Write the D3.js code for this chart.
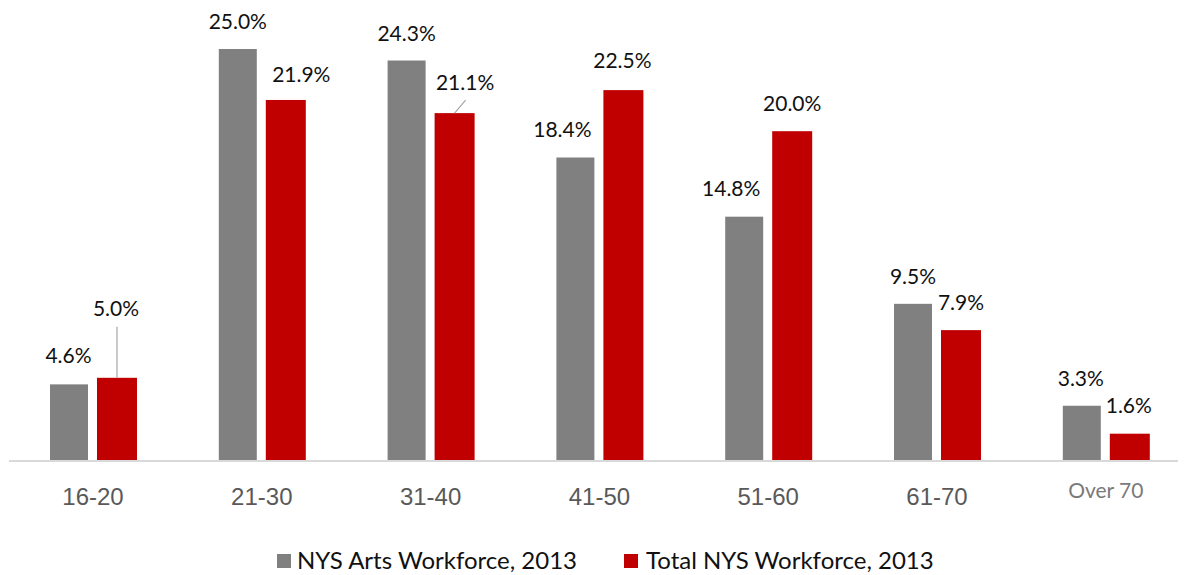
<!DOCTYPE html>
<html>
<head>
<meta charset="utf-8">
<script src="https://cdn.jsdelivr.net/npm/d3@7"></script>
<style>
  html, body { margin: 0; padding: 0; background: #fff; }
  svg { display: block; }
</style>
</head>
<body>
<svg id="chart" width="1184" height="575"></svg>
<script>
// ---- data ----
const categories = ["16-20", "21-30", "31-40", "41-50", "51-60", "61-70", "Over 70"];
const seriesNames = ["NYS Arts Workforce, 2013", "Total NYS Workforce, 2013"];
const artsValues = [4.6, 25.0, 24.3, 18.4, 14.8, 9.5, 3.3];
const totalValues = [5.0, 21.9, 21.1, 22.5, 20.0, 7.9, 1.6];
const seriesColors = ["#808080", "#C00000"];

// label nudges (layout only): [dx, gap above bar top]
const artsLabelNudge = [[-0.5, 21.5], [0, 20], [0, 19.5], [-13, 20.5], [-13, 20.7], [0, 19.8], [-1, 19.7]];
const totalLabelNudge = [[-1, 62], [15.5, 18.3], [10.5, 23], [-1, 22], [0, 20], [0, 20], [-1, 20.7]];

const svg = d3.select("#chart");
const baseY = 460;

const x0 = d3.scaleBand().domain(categories).range([8.6, 1190.2]).paddingInner(0).paddingOuter(0);
const bw = x0.bandwidth();
const x1 = d3.scaleBand().domain(seriesNames).range([bw / 2 - 44, bw / 2 + 44]).paddingInner(8 / 48).paddingOuter(0);
const y = d3.scaleLinear().domain([0, 25]).range([baseY, 49]);

const seriesData = [artsValues, totalValues];
const nudges = [artsLabelNudge, totalLabelNudge];

// bars
seriesNames.forEach((s, si) => {
  svg.append("g").selectAll("rect")
    .data(categories.map((c, i) => ({ c, v: seriesData[si][i], i })))
    .join("rect")
    .attr("x", d => x0(d.c) + x1(s) + (si === 0 ? 1 : 0))
    .attr("width", x1.bandwidth() - (si === 0 ? 2 : 0))
    .attr("y", d => y(d.v))
    .attr("height", d => baseY - y(d.v))
    .attr("fill", seriesColors[si]);
});

// axis line
svg.append("line")
  .attr("x1", 9).attr("x2", 1178)
  .attr("y1", baseY + 1).attr("y2", baseY + 1)
  .attr("stroke", "#d9d9d9").attr("stroke-width", 2);

// category labels via axis
const axis = d3.axisBottom(x0).tickSize(0).tickPadding(0);
const ag = svg.append("g").attr("transform", `translate(0,${baseY})`).call(axis);
ag.select(".domain").remove();
ag.selectAll("text")
  .attr("dy", null)
  .attr("y", d => d === "Over 70" ? 38 : 45)
  .attr("font-family", d => d === "Over 70" ? "Lato, 'Open Sans', sans-serif" : "'Liberation Sans', Arial, sans-serif")
  .attr("font-size", d => d === "Over 70" ? 21 : 24)
  .attr("fill", d => d === "Over 70" ? "#7a7a7a" : "#595959");

// data labels
seriesNames.forEach((s, si) => {
  const g = svg.append("g");
  categories.forEach((c, i) => {
    const v = seriesData[si][i];
    const cx = x0(c) + x1(s) + x1.bandwidth() / 2;
    const [dx, dy] = nudges[si][i];
    g.append("text")
      .attr("x", cx + dx)
      .attr("y", y(v) - dy)
      .attr("text-anchor", "middle")
      .attr("font-family", "Lato, 'Open Sans', sans-serif")
      .attr("font-size", 21)
      .attr("fill", "#111")
      .text(v.toFixed(1) + "%");
  });
});

// leader lines
{
  const s = seriesNames[1];
  const cx = x0(categories[0]) + x1(s) + x1.bandwidth() / 2;
  svg.append("line")
    .attr("x1", cx).attr("x2", cx)
    .attr("y1", y(totalValues[0]) - 51).attr("y2", y(totalValues[0]))
    .attr("stroke", "#a6a6a6").attr("stroke-width", 1.2);
  const cx2 = x0(categories[2]) + x1(s) + x1.bandwidth() / 2;
  svg.append("line")
    .attr("x1", cx2 + 11).attr("x2", cx2)
    .attr("y1", y(totalValues[2]) - 13).attr("y2", y(totalValues[2]))
    .attr("stroke", "#a6a6a6").attr("stroke-width", 1.2);
}

// legend
const legend = svg.append("g").attr("font-family", "Lato, 'Open Sans', sans-serif").attr("font-size", 24).attr("fill", "#111");
const legendSwatchX = [277, 624];
const legendTextX = [297, 646];
seriesNames.forEach((s, si) => {
  legend.append("rect").attr("x", legendSwatchX[si]).attr("y", 554).attr("width", 14).attr("height", 14).attr("fill", seriesColors[si]);
  legend.append("text").attr("x", legendTextX[si]).attr("y", 569).text(s);
});
</script>
</body>
</html>
